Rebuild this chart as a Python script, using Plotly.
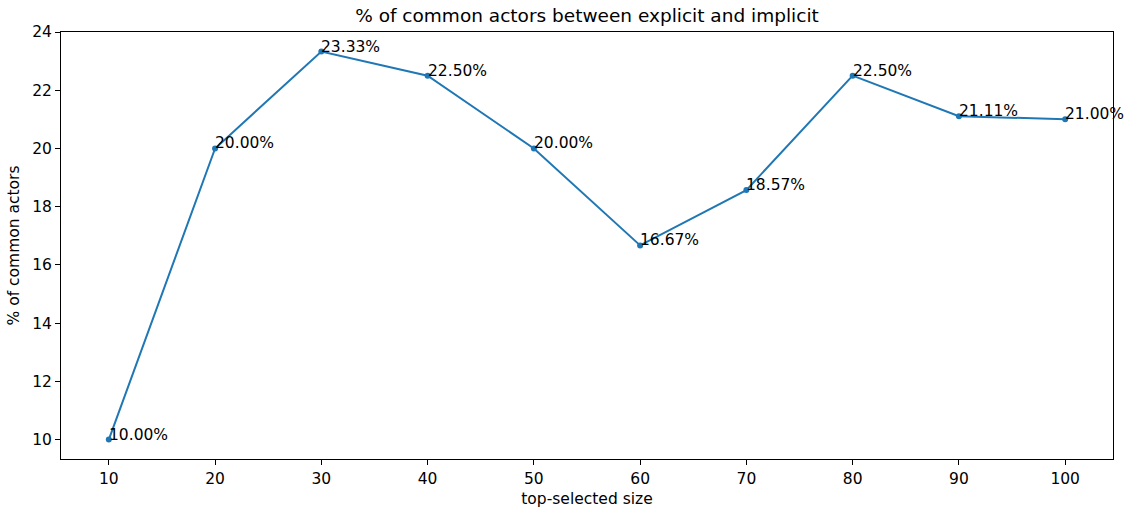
import plotly.graph_objects as go

sizes = [10, 20, 30, 40, 50, 60, 70, 80, 90, 100]
pct = [10.00, 20.00, 23.33, 22.50, 20.00, 16.67, 18.57, 22.50, 21.11, 21.00]
labels = [f"{v:.2f}%" for v in pct]

color = "#1f77b4"
fnt = "DejaVu Sans"
fs = 15.5

fig = go.Figure()
fig.add_trace(go.Scatter(x=sizes, y=pct, mode="lines+markers",
                         line=dict(color=color, width=2),
                         marker=dict(color=color, size=6)))
for x, y, t in zip(sizes, pct, labels):
    fig.add_annotation(x=x, y=y, text=t, showarrow=False, xanchor="left", yanchor="bottom",
                       xshift=-2, yshift=-6, font=dict(family=fnt, size=fs, color="black"))

axis_common = dict(showline=True, linecolor="black", linewidth=1, mirror=True,
                   ticks="outside", ticklen=5, tickcolor="black", showgrid=False, zeroline=False,
                   tickfont=dict(family=fnt, size=fs, color="black"))
fig.update_xaxes(range=[5.5, 104.5], tickvals=sizes,
                 title=dict(text="top-selected size", font=dict(family=fnt, size=fs, color="black"), standoff=6),
                 **axis_common)
fig.update_yaxes(range=[9.3335, 24.0], tickvals=[10, 12, 14, 16, 18, 20, 22, 24],
                 title=dict(text="% of common actors", font=dict(family=fnt, size=fs, color="black"), standoff=8),
                 **axis_common)
fig.update_layout(width=1132, height=510, margin=dict(l=61, r=19, t=32, b=51, autoexpand=False),
                  plot_bgcolor="white", paper_bgcolor="white", showlegend=False,
                  title=dict(text="% of common actors between explicit and implicit", x=0.5, xanchor="center",
                             xref="paper", y=1 - 16 / 510, yanchor="middle",
                             font=dict(family=fnt, size=18.5, color="black")))
fig.write_html("out.html", config={"displayModeBar": False},
               post_script="document.body.style.margin='0';document.body.style.overflow='hidden';")
